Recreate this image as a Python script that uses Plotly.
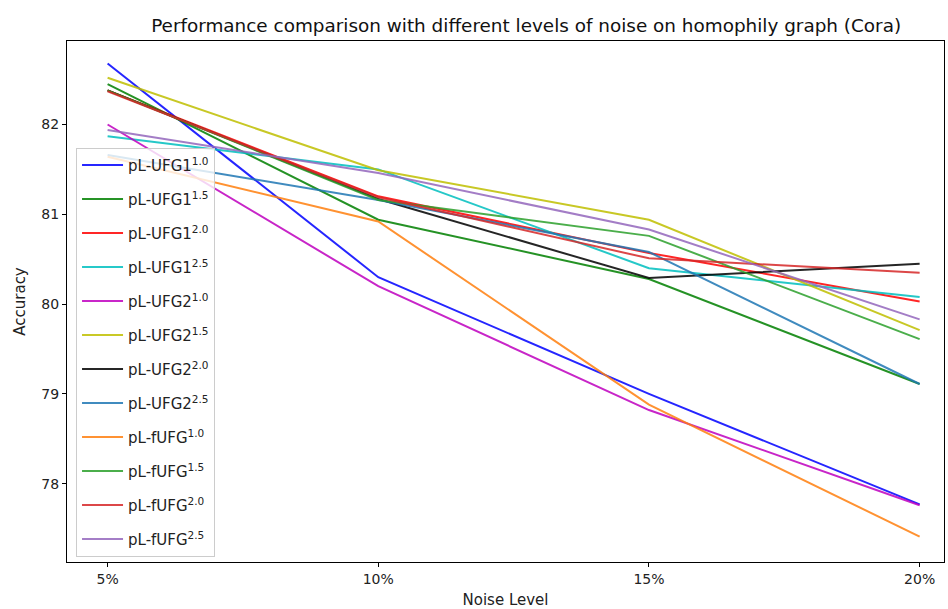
import plotly.graph_objects as go

# Noise levels on the x axis
noise_levels = ["5%", "10%", "15%", "20%"]

# Accuracy (%) of each model variant at each noise level
ufg1_10 = [82.68, 80.30, 79.00, 77.77]
ufg1_15 = [82.45, 80.94, 80.28, 79.11]
ufg1_20 = [82.38, 81.20, 80.57, 80.03]
ufg1_25 = [81.87, 81.50, 80.40, 80.08]
ufg2_10 = [82.00, 80.20, 78.82, 77.76]
ufg2_15 = [82.52, 81.49, 80.94, 79.71]
ufg2_20 = [82.38, 81.17, 80.29, 80.45]
ufg2_25 = [81.66, 81.16, 80.58, 79.11]
fufg_10 = [81.64, 80.92, 78.88, 77.41]
fufg_15 = [82.38, 81.16, 80.76, 79.61]
fufg_20 = [82.37, 81.19, 80.51, 80.35]
fufg_25 = [81.94, 81.46, 80.83, 79.83]

series = [
    ("pL-UFG1<sup>1.0</sup>", ufg1_10, "#0000ff"),
    ("pL-UFG1<sup>1.5</sup>", ufg1_15, "#008000"),
    ("pL-UFG1<sup>2.0</sup>", ufg1_20, "#ff0000"),
    ("pL-UFG1<sup>2.5</sup>", ufg1_25, "#00bfbf"),
    ("pL-UFG2<sup>1.0</sup>", ufg2_10, "#bf00bf"),
    ("pL-UFG2<sup>1.5</sup>", ufg2_15, "#bfbf00"),
    ("pL-UFG2<sup>2.0</sup>", ufg2_20, "#000000"),
    ("pL-UFG2<sup>2.5</sup>", ufg2_25, "#1f77b4"),
    ("pL-fUFG<sup>1.0</sup>", fufg_10, "#ff7f0e"),
    ("pL-fUFG<sup>1.5</sup>", fufg_15, "#2ca02c"),
    ("pL-fUFG<sup>2.0</sup>", fufg_20, "#d62728"),
    ("pL-fUFG<sup>2.5</sup>", fufg_25, "#9467bd"),
]

x_idx = list(range(len(noise_levels)))

fig = go.Figure()
for i, (name, vals, color) in enumerate(series):
    fig.add_trace(go.Scatter(
        x=x_idx, y=vals, mode="lines", name=name,
        line=dict(color=color, width=2), opacity=0.85,
        legendgroup=f"g{i}",
    ))

axis_common = dict(
    showline=True, linecolor="black", linewidth=1, mirror=True,
    ticks="outside", ticklen=4, tickcolor="black",
    showgrid=False, zeroline=False,
    tickfont=dict(family="DejaVu Sans", size=14, color="#222"),
    title_font=dict(family="DejaVu Sans", size=15, color="#222"),
)

fig.update_layout(
    width=948, height=609,
    margin=dict(l=67, r=4, t=41, b=47),
    paper_bgcolor="white", plot_bgcolor="white",
    title=dict(
        text="Performance comparison with different levels of noise on homophily graph (Cora)",
        x=0.555, xanchor="center", y=0.958, yanchor="middle",
        font=dict(family="DejaVu Sans", size=18.4, color="#111"),
    ),
    xaxis=dict(
        range=[-0.15, 3.09], tickvals=x_idx, ticktext=noise_levels,
        title=dict(text="Noise Level", standoff=9), **axis_common,
    ),
    yaxis=dict(
        range=[77.128, 82.93], tickvals=[78, 79, 80, 81, 82],
        title=dict(text="Accuracy", standoff=12), **axis_common,
    ),
    legend=dict(
        x=0.0103, y=0.795, xanchor="left", yanchor="top",
        bgcolor="rgba(255,255,255,0.8)", bordercolor="#cccccc", borderwidth=1,
        font=dict(family="DejaVu Sans", size=15, color="#222"),
        tracegroupgap=11.5, itemwidth=41,
    ),
    showlegend=True,
)

fig.write_html("out.html")
